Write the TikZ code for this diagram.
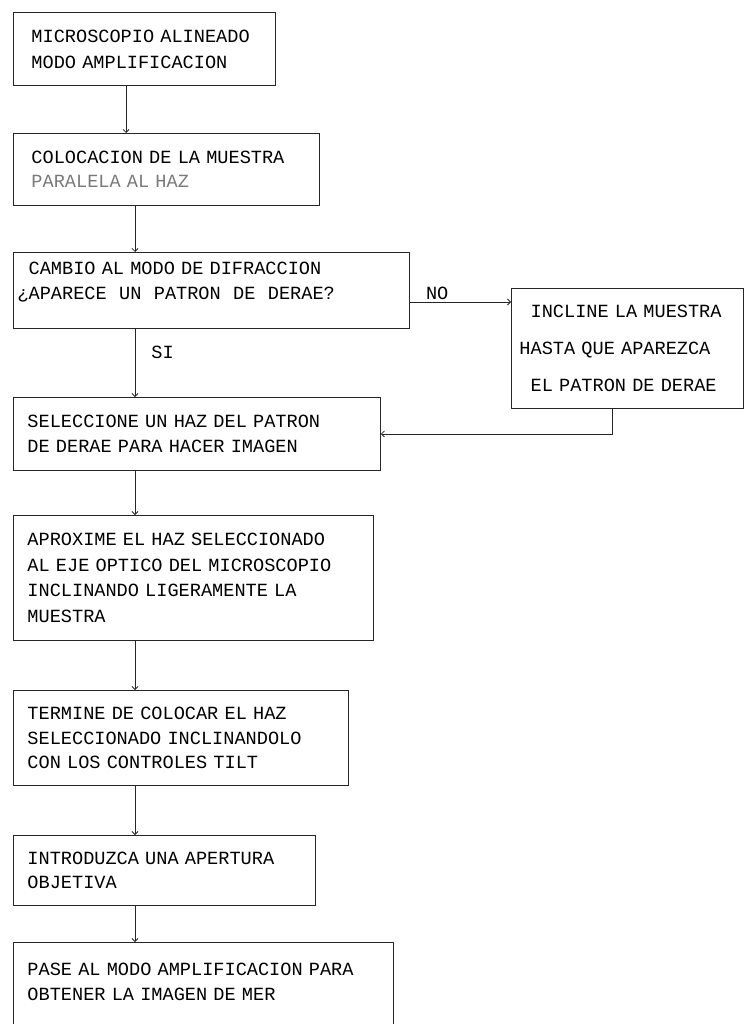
\documentclass[tikz,border=0pt]{standalone}
\usepackage{fontspec}
\setmonofont{Liberation Mono}
\usetikzlibrary{arrows.meta,calc}
\definecolor{inkgrey}{HTML}{262626}
\definecolor{fadedink}{HTML}{7A7A7A}
\newcommand{\printerfont}[1]{% {baselineskip}, fixed-pitch spaces
  \ttfamily\fontsize{18.6}{#1}\selectfont
  \fontdimen2\font=11.16pt\fontdimen3\font=0pt\fontdimen4\font=0pt}

\begin{document}
\begin{tikzpicture}[x=1pt,y=-1pt,
    flowbox/.style={draw=inkgrey,line width=0.9pt,anchor=north west,align=left,
      inner xsep=14pt,inner ysep=4pt,font=\printerfont{24.5}},
    flow/.style={draw=inkgrey,line width=0.8pt,-{Straight Barb[length=3pt,width=6pt]}},
    tag/.style={font=\printerfont{20},inner sep=2pt}]
  \useasboundingbox (0,0) rectangle (745,1024);
  \clip (0,0) rectangle (745,1024);
  % Lines the connectors run along
  \coordinate (spineA) at (126,0);
  \coordinate (spine) at (135,0);
  \coordinate (nolevel) at (0,302);
  \coordinate (ret) at (612,0);
  % Main column
  \node[flowbox,inner xsep=18pt,text width=226pt,minimum height=73pt,
    font=\printerfont{26}] (aligned) at (13,12)
    {MICROSCOPIO ALINEADO\\MODO AMPLIFICACION};
  \node[flowbox,inner xsep=18pt,text width=270pt,minimum height=72pt] (sample) at (13,133)
    {COLOCACION DE LA MUESTRA\\{\color{fadedink}PARALELA AL HAZ}};
  \node[flowbox,inner xsep=4pt,text width=388pt,minimum height=76pt] (diffr) at (13,252)
    {\hphantom{X}CAMBIO AL MODO DE DIFRACCION\\\mbox{}¿APARECE~~UN~~PATRON~~DE~~DERAE?\\[-5pt]\mbox{}};
  \node[flowbox,text width=339pt,minimum height=73pt] (select) at (13,397)
    {SELECCIONE UN HAZ DEL PATRON\\DE DERAE PARA HACER IMAGEN};
  \node[flowbox,text width=332pt,minimum height=125pt,font=\printerfont{25.5}] (approach) at (13,515)
    {APROXIME EL HAZ SELECCIONADO\\AL EJE OPTICO DEL MICROSCOPIO\\INCLINANDO LIGERAMENTE LA\\MUESTRA};
  \node[flowbox,text width=307pt,minimum height=95pt] (finish) at (13,690)
    {TERMINE DE COLOCAR EL HAZ\\SELECCIONADO INCLINANDOLO\\CON LOS CONTROLES TILT};
  \node[flowbox,text width=274pt,minimum height=70pt] (aperture) at (13,835)
    {INTRODUZCA UNA APERTURA\\OBJETIVA};
  \node[flowbox,text width=352pt,minimum height=100pt] (image) at (13,942)
    {PASE AL MODO AMPLIFICACION PARA\\OBTENER LA IMAGEN DE MER\\[-3.5pt]\mbox{}};
  % Side branch
  \node[flowbox,inner xsep=8pt,text width=216pt,minimum height=120pt,
    font=\printerfont{37}] (tilt) at (511,288)
    {\hphantom{X}INCLINE LA MUESTRA\\HASTA QUE APAREZCA\\\hphantom{X}EL PATRON DE DERAE};
  % Connectors
  \draw[flow] (aligned.south -| spineA) -- (sample.north -| spineA);
  \draw[flow] (sample.south -| spine) -- (diffr.north -| spine);
  \draw[flow] (diffr.south -| spine) -- node[tag,right,pos=0.35,xshift=14pt] {SI} (select.north -| spine);
  \draw[flow] (diffr.east |- nolevel) -- node[tag,above,pos=0.27] {NO} (tilt.west |- nolevel);
  \draw[flow] (tilt.south -| ret) |- (select.east);
  \foreach \a/\b in {select/approach,approach/finish,finish/aperture,aperture/image}
    \draw[flow] (\a.south -| spine) -- (\b.north -| spine);
\end{tikzpicture}
\end{document}
